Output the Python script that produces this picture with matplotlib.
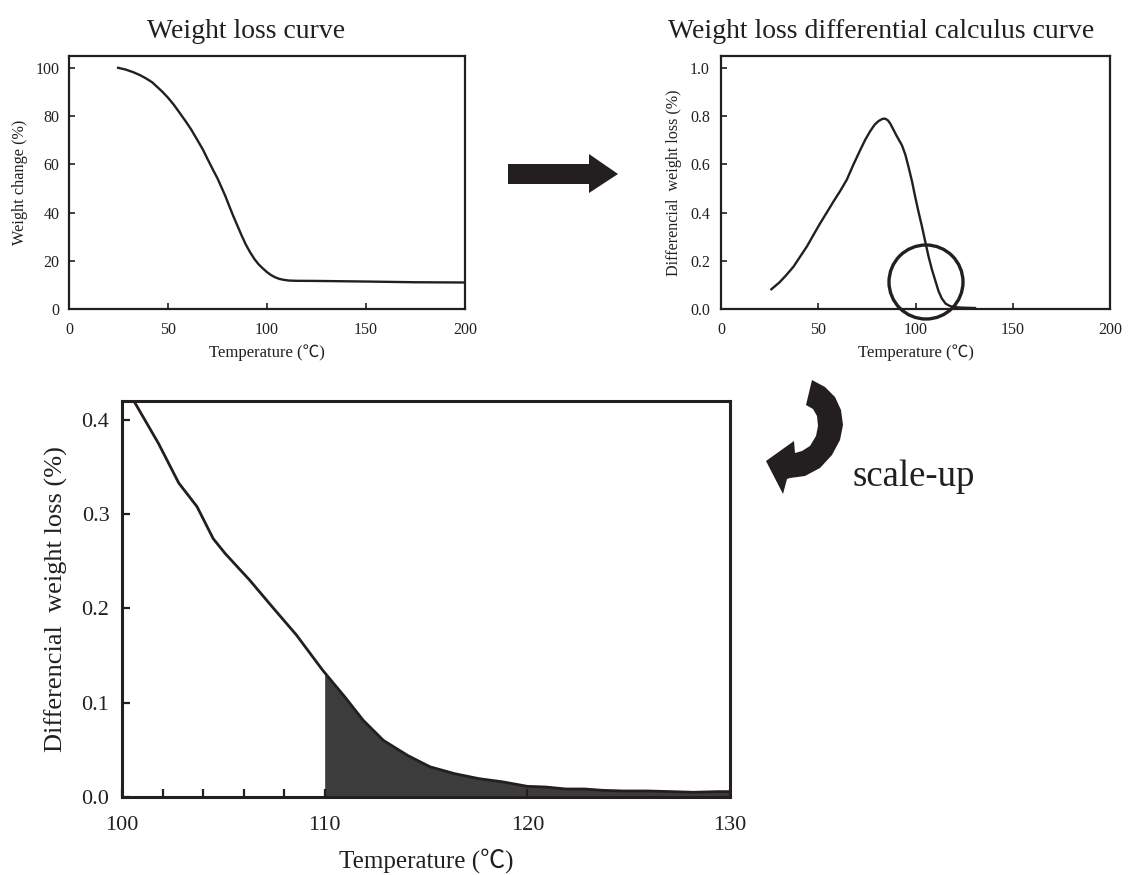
import matplotlib
matplotlib.use("Agg")
import matplotlib.pyplot as plt
from matplotlib.patches import Polygon, Ellipse
from matplotlib.ticker import FixedLocator, FormatStrFormatter

plt.rcParams['font.family'] = ['Liberation Serif', 'Noto Sans CJK JP', 'DejaVu Sans']

# ---------------- data ----------------
# Weight loss curve (TG)
tg_temp = [24.8, 28.5, 32.4, 36, 39.1, 42, 44.1, 47, 50, 53, 55.9, 59, 61.7, 64.5, 67.6, 70, 72.7, 75,
           76.8, 79, 81, 83, 85.2, 87.3, 89.4, 91.5, 93.6, 95.7, 97.8, 100, 102, 104, 106.2, 108.5,
           111.2, 115, 124.7, 149.8, 175, 200]
tg_weight = [100.1, 99.4, 98.3, 97.0, 95.6, 94.1, 92.5, 90.3, 87.7, 84.7, 81.4, 77.8, 74.5, 70.6, 66.2,
             62.2, 57.8, 54.2, 50.9, 46.8, 42.6, 38.5, 34.3, 30.3, 26.6, 23.5, 20.8, 18.6, 16.9, 15.3,
             14.1, 13.2, 12.5, 12.1, 11.8, 11.7, 11.65, 11.4, 11.1, 11.0]

# Differential curve (DTG), overview
dtg_temp = [25.9, 30, 33.5, 37.3, 40.5, 44.2, 47.5, 51, 54.5, 57.9, 61.3, 64.7, 68, 71.6, 74.2, 76.7,
            79, 81, 83, 84.4, 85.8, 87, 88.6, 90.4, 93, 94.8, 96.4, 98.2, 99.8, 101.5, 103.3, 105,
            106.7, 108.4, 110.1, 111.8, 113.5, 115.5, 117.8, 120, 123, 126.5, 130.6]
dtg_value = [0.082, 0.11, 0.14, 0.176, 0.215, 0.26, 0.307, 0.356, 0.402, 0.447, 0.49, 0.537, 0.598,
             0.66, 0.703, 0.738, 0.765, 0.78, 0.789, 0.79, 0.783, 0.77, 0.745, 0.717, 0.68, 0.64,
             0.59, 0.53, 0.467, 0.405, 0.343, 0.28, 0.218, 0.165, 0.12, 0.075, 0.044, 0.022,
             0.012, 0.008, 0.006, 0.005, 0.004]

# Differential curve, scaled up 100-130 C
zoom_temp = [100.4, 100.6, 101.8, 102.8, 103.7, 104.5, 105.1, 106.3, 107.4, 108.6, 109.9, 111.0, 111.9,
             112.9, 114.1, 115.2, 116.4, 117.6, 118.8, 120.0, 120.9, 121.9, 122.8, 123.7, 124.7,
             125.9, 127.1, 128.2, 129.4, 130.0]
zoom_value = [0.43, 0.4195, 0.375, 0.333, 0.308, 0.274, 0.258, 0.230, 0.202, 0.172, 0.1345, 0.106, 0.0814,
              0.060, 0.044, 0.032, 0.0248, 0.0195, 0.016, 0.0113, 0.0106, 0.0085, 0.0085, 0.0071, 0.0064,
              0.0064, 0.0057, 0.005, 0.0057, 0.0057]
shade_start = 110

W, H = 1131, 875
fig = plt.figure(figsize=(W / 100, H / 100), dpi=100)

def fx(px):
    return px / W

def fy(py):
    return 1 - py / H

def rect(l, t, r, b):
    return [fx(l), fy(b), fx(r) - fx(l), fy(t) - fy(b)]

ink = '#231f20'

# ---------------- top-left ----------------
ax1 = fig.add_axes(rect(69, 56, 465, 309))
ax1.plot(tg_temp, tg_weight, color=ink, lw=1.7, solid_joinstyle='round')
ax1.set_xlim(0, 200)
ax1.set_ylim(0, 105)
ax1.set_xticks([0, 50, 100, 150, 200])
ax1.set_yticks([0, 20, 40, 60, 80, 100])
ax1.tick_params(direction='in', length=4, width=1.2, labelsize=11.5, colors=ink)
ax1.tick_params(axis='x', pad=9)
ax1.tick_params(axis='y', pad=7)
for s in ax1.spines.values():
    s.set_linewidth(1.6)
    s.set_color(ink)
ax1.set_xlabel('Temperature (℃)', fontsize=12, color=ink, labelpad=5)
ax1.set_ylabel('Weight change (%)', fontsize=11.7, color=ink, labelpad=5)
fig.text(fx(246), fy(31), 'Weight loss curve', fontsize=20, ha='center', va='center', color=ink)

# ---------------- top-right ----------------
ax2 = fig.add_axes(rect(721, 56, 1110, 309))
ax2.plot(dtg_temp, dtg_value, color=ink, lw=1.7, solid_joinstyle='round')
ax2.set_xlim(0, 200)
ax2.set_ylim(0, 1.05)
ax2.set_xticks([0, 50, 100, 150, 200])
ax2.set_yticks([0.0, 0.2, 0.4, 0.6, 0.8, 1.0])
ax2.yaxis.set_major_formatter(FormatStrFormatter('%.1f'))
ax2.tick_params(direction='in', length=4, width=1.2, labelsize=11.5, colors=ink)
ax2.tick_params(axis='x', pad=9)
ax2.tick_params(axis='y', pad=8)
for s in ax2.spines.values():
    s.set_linewidth(1.6)
    s.set_color(ink)
ax2.set_xlabel('Temperature (℃)', fontsize=12, color=ink, labelpad=5)
ax2.set_ylabel('Differencial  weight loss (%)', fontsize=11.6, color=ink, labelpad=6)
fig.text(fx(881), fy(31), 'Weight loss differential calculus curve', fontsize=20, ha='center', va='center', color=ink)

# circle marking the zoomed region
fig.add_artist(Ellipse((fx(926), fy(282)), 74 / W, 74 / H, fill=False, lw=2.4, edgecolor=ink))

# ---------------- bottom ----------------
ax3 = fig.add_axes(rect(122, 401, 730, 797))
ax3.plot(zoom_temp, zoom_value, color=ink, lw=2.0)
sel = [i for i, t in enumerate(zoom_temp) if t >= shade_start]
st = [shade_start] + [zoom_temp[i] for i in sel]
i0 = sel[0]
v0 = zoom_value[i0 - 1] + (zoom_value[i0] - zoom_value[i0 - 1]) * (shade_start - zoom_temp[i0 - 1]) / (zoom_temp[i0] - zoom_temp[i0 - 1])
sv = [v0] + [zoom_value[i] for i in sel]
ax3.fill_between(st, 0, sv, color='#3c3c3c', lw=0)
ax3.set_xlim(100, 130)
ax3.set_ylim(0, 0.42)
ax3.set_xticks([100, 110, 120, 130])
ax3.xaxis.set_minor_locator(FixedLocator([102, 104, 106, 108]))
ax3.set_yticks([0.0, 0.1, 0.2, 0.3, 0.4])
ax3.yaxis.set_major_formatter(FormatStrFormatter('%.1f'))
ax3.tick_params(which='both', direction='in', length=6, width=1.6, labelsize=16, colors=ink)
ax3.tick_params(axis='x', pad=14)
ax3.tick_params(axis='y', pad=9)
for s in ax3.spines.values():
    s.set_linewidth(2.2)
    s.set_color(ink)
ax3.set_xlabel('Temperature (℃)', fontsize=18, color=ink, labelpad=9)
ax3.set_ylabel('Differencial  weight loss (%)', fontsize=19, color=ink, labelpad=10)

# ---------------- arrows ----------------
straight = [(508, 164), (589, 164), (589, 154), (618, 174), (589, 193), (589, 184), (508, 184)]
fig.add_artist(Polygon([(fx(x), fy(y)) for x, y in straight], closed=True, facecolor=ink, edgecolor='none'))

curved = [(790, 478), (805, 476), (820, 468), (832, 455), (840, 440), (843, 425), (841, 410),
          (835, 397), (825, 387), (812, 380), (806, 405), (813, 409), (817, 416), (818, 426),
          (816, 436), (810, 446), (802, 451), (795, 453), (794, 441), (766, 461), (783, 494), (787, 479)]
fig.add_artist(Polygon([(fx(x), fy(y)) for x, y in curved], closed=True, facecolor=ink, edgecolor='none'))
fig.text(fx(852), fy(477), 'scale-up', fontsize=26.5, ha='left', va='center', color=ink)

fig.savefig('out.png', dpi=100)
